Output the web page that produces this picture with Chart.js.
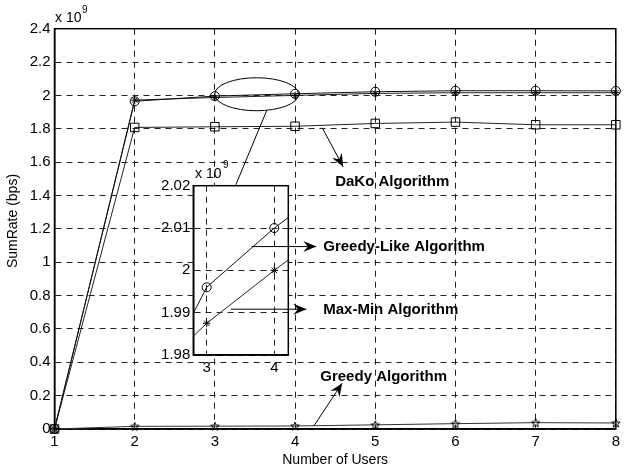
<!DOCTYPE html>
<html><head><meta charset="utf-8">
<script src="https://cdn.jsdelivr.net/npm/chart.js@4.4.0/dist/chart.umd.min.js"></script>
<style>
html,body{margin:0;padding:0;background:#fff;}
#wrap{position:relative;width:624px;height:470px;overflow:hidden;}
canvas{position:absolute;}
#main{left:0;top:0;}
#inset{left:150px;top:160px;}
#overlay{left:0;top:0;pointer-events:none;}
</style></head><body>
<div id="wrap">
<canvas id="main" width="624" height="470"></canvas>
<canvas id="inset" width="150" height="230"></canvas>
<canvas id="overlay" width="624" height="470"></canvas>
</div>
<script>
// ---- data (values in units of 10^9 bps) ----
const users = [1, 2, 3, 4, 5, 6, 7, 8];
const greedyLike = [0, 1.965, 1.996, 2.010, 2.022, 2.028, 2.028, 2.027];
const maxMin     = [0, 1.972, 1.9875, 2.000, 2.012, 2.016, 2.016, 2.016];
const dako       = [0, 1.808, 1.812, 1.815, 1.832, 1.840, 1.824, 1.824];
const greedy     = [0, 0.016, 0.017, 0.018, 0.025, 0.032, 0.038, 0.036];
const yTicks = [0, 0.2, 0.4, 0.6, 0.8, 1, 1.2, 1.4, 1.6, 1.8, 2, 2.2, 2.4];
const xTicks = [1, 2, 3, 4, 5, 6, 7, 8];
const insetYTicks = [1.98, 1.99, 2, 2.01, 2.02];
const insetXTicks = [3, 4];

const FONT = 'Liberation Sans, Arial, Helvetica, sans-serif';

function starImage(r) {
  const s = Math.ceil(r * 2 + 3);
  const c = document.createElement('canvas');
  c.width = s; c.height = s;
  const g = c.getContext('2d');
  g.strokeStyle = '#000'; g.lineWidth = 1;
  g.beginPath();
  for (let i = 0; i < 10; i++) {
    const a = -Math.PI / 2 + i * Math.PI / 5;
    const rr = i % 2 ? r * 0.42 : r;
    const x = s / 2 + rr * Math.cos(a), y = s / 2 + 0.5 + rr * Math.sin(a);
    i ? g.lineTo(x, y) : g.moveTo(x, y);
  }
  g.closePath(); g.stroke();
  return c;
}
const pent = starImage(4.5);

function series(vals) { return users.map((u, i) => ({x: u, y: vals[i]})); }
function mkSets(clip) {
  const base = {borderWidth: 1, pointBorderWidth: 1, pointBackgroundColor: 'rgba(0,0,0,0)',
    pointBorderColor: '#000', tension: 0, clip: clip};
  return [
    Object.assign({}, base, {label: 'Greedy-Like Algorithm', data: series(greedyLike), borderColor: '#111', pointStyle: 'circle', pointRadius: 4.5}),
    Object.assign({}, base, {label: 'Max-Min Algorithm', data: series(maxMin), borderColor: '#222', pointStyle: 'star', pointRadius: 3.8}),
    Object.assign({}, base, {label: 'DaKo Algorithm', data: series(dako), borderColor: '#222', pointStyle: 'rect', pointRadius: 6}),
    Object.assign({}, base, {label: 'Greedy Algorithm', data: series(greedy), borderColor: '#333', pointStyle: pent, pointRadius: 4.5})
  ];
}

const frame = {
  id: 'frame',
  beforeDraw(chart, args, opts) {
    if (opts.fill) {
      const a = chart.chartArea, c = chart.ctx;
      c.save(); c.fillStyle = '#fff'; c.fillRect(a.left, a.top, a.right - a.left, a.bottom - a.top); c.restore();
    }
  },
  beforeDatasetsDraw(chart, args, opts) {
    const a = chart.chartArea, c = chart.ctx;
    c.save(); c.strokeStyle = '#000'; c.lineWidth = opts.width || 1.5;
    c.strokeRect(a.left, a.top, a.right - a.left, a.bottom - a.top); c.restore();
  }
};

const gridCfg = {color: '#222', lineWidth: 1, drawTicks: false};
const borderCfg = {display: true, color: '#000', width: 1.5, dash: [6, 5]};

const mainChart = new Chart(document.getElementById('main'), {
  type: 'line',
  data: {datasets: mkSets(false)},
  plugins: [frame],
  options: {
    responsive: false, animation: false, events: [],
    layout: {padding: {top: 28.7, right: 4.5, left: 0, bottom: 0}},
    plugins: {legend: {display: false}, tooltip: {enabled: false}, frame: {width: 1.5}},
    scales: {
      x: {type: 'linear', min: 1, max: 8,
        afterBuildTicks: s => { s.ticks = xTicks.map(v => ({value: v})); },
        afterFit: s => { s.height = 41; },
        grid: gridCfg, border: borderCfg,
        ticks: {color: '#000', padding: 4, font: {family: FONT, size: 15}, maxRotation: 0, callback: v => String(v)},
        title: {display: true, text: 'Number of Users', color: '#000', font: {family: FONT, size: 14}, padding: {top: 0, bottom: 1}}
      },
      y: {type: 'linear', min: 0, max: 2.4,
        afterBuildTicks: s => { s.ticks = yTicks.map(v => ({value: v})); },
        afterFit: s => { s.width = 54.5; },
        grid: gridCfg, border: borderCfg,
        ticks: {color: '#000', padding: 4, font: {family: FONT, size: 15}, callback: v => String(Number(v.toFixed(2)))}
      }
    }
  }
});

const insetChart = new Chart(document.getElementById('inset'), {
  type: 'line',
  data: {datasets: mkSets(undefined)},
  plugins: [frame],
  options: {
    responsive: false, animation: false, events: [],
    layout: {padding: {top: 25.7, right: 11.7, left: 0, bottom: 0}},
    plugins: {legend: {display: false}, tooltip: {enabled: false}, frame: {width: 1.5, fill: true}},
    scales: {
      x: {type: 'linear', min: 2.802, max: 4.207,
        afterBuildTicks: s => { s.ticks = insetXTicks.map(v => ({value: v})); },
        afterFit: s => { s.height = 35; },
        grid: gridCfg, border: borderCfg,
        ticks: {color: '#000', padding: 4, font: {family: FONT, size: 15}, maxRotation: 0, callback: v => String(v)}
      },
      y: {type: 'linear', min: 1.98, max: 2.02,
        afterBuildTicks: s => { s.ticks = insetYTicks.map(v => ({value: v})); },
        afterFit: s => { s.width = 43.3; },
        grid: gridCfg, border: borderCfg,
        ticks: {color: '#000', padding: 3, font: {family: FONT, size: 15}, callback: v => String(Number(v.toFixed(2)))}
      }
    }
  }
});

// ---- annotations (anchored to main chart data coordinates) ----
(function drawOverlay() {
  const c = document.getElementById('overlay').getContext('2d');
  const sx = mainChart.scales.x, sy = mainChart.scales.y;
  const X = v => sx.getPixelForValue(v), Y = v => sy.getPixelForValue(v);
  c.strokeStyle = '#000'; c.fillStyle = '#000'; c.lineWidth = 1;

  function arrow(x1, y1, x2, y2) {
    c.beginPath(); c.moveTo(x1, y1); c.lineTo(x2, y2); c.stroke();
    const ang = Math.atan2(y2 - y1, x2 - x1), L = 13, W = 5.5;
    const bx = x2 - L * Math.cos(ang), by = y2 - L * Math.sin(ang);
    const nx = x2 - L * 0.65 * Math.cos(ang), ny = y2 - L * 0.65 * Math.sin(ang);
    c.beginPath();
    c.moveTo(x2, y2);
    c.lineTo(bx + W * Math.sin(ang), by - W * Math.cos(ang));
    c.lineTo(nx, ny);
    c.lineTo(bx - W * Math.sin(ang), by + W * Math.cos(ang));
    c.closePath(); c.fill();
  }
  function px(v) { return 1 + (v - 54.5) / 80.71; }   // helper: pixel -> data x
  function py(v) { return (429 - v) / 166.67; }       // helper: pixel -> data y

  // ellipse around users 3..4
  c.beginPath();
  c.ellipse(X(3.52), Y(2.007), 0.52 * 80.71, 0.099 * 166.67, 0, 0, Math.PI * 2);
  c.stroke();
  // connector ellipse -> inset
  c.beginPath(); c.moveTo(X(px(268)), Y(py(111))); c.lineTo(X(px(237)), Y(py(185))); c.stroke();

  // arrows
  arrow(X(px(324)), Y(py(128)), X(px(345)), Y(py(167)));   // DaKo
  arrow(X(px(253)), Y(py(246.7)), X(px(318)), Y(py(246.7))); // Greedy-Like
  arrow(X(px(232)), Y(py(309.3)), X(px(308)), Y(py(309.3))); // Max-Min
  arrow(X(px(315.7)), Y(py(425.7)), X(px(344)), Y(py(383.3))); // Greedy

  c.font = 'bold 15px ' + FONT;
  c.textBaseline = 'middle'; c.textAlign = 'left';
  c.fillText('DaKo Algorithm', X(px(337)), Y(py(182)));
  c.fillText('Greedy-Like Algorithm', X(px(325)), Y(py(247)));
  c.fillText('Max-Min Algorithm', X(px(325)), Y(py(310)));
  c.fillText('Greedy Algorithm', X(px(322)), Y(py(377)));

  // exponent labels
  c.font = '14px ' + FONT;
  c.fillText('x 10', 55, 18);
  c.font = '10px ' + FONT;
  c.fillText('9', 82, 10);
  c.font = '14px ' + FONT;
  c.fillText('x 10', 195, 174);
  c.font = '10px ' + FONT;
  c.fillText('9', 223, 165);

  // y axis title
  c.save();
  c.translate(13, 221); c.rotate(-Math.PI / 2);
  c.font = '14px ' + FONT; c.textAlign = 'center';
  c.fillText('SumRate (bps)', 0, 0);
  c.restore();
})();
</script>
</body></html>
